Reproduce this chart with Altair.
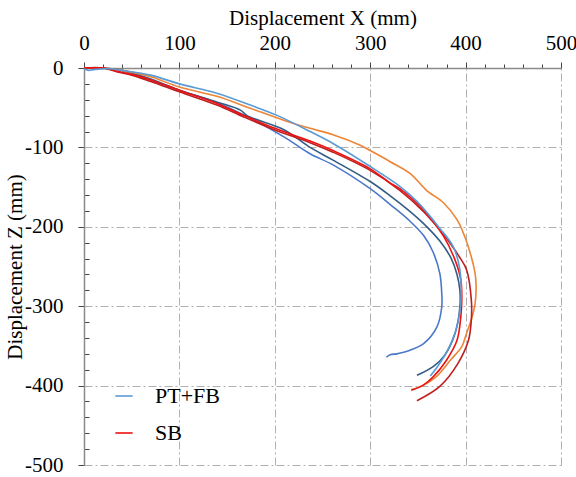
import altair as alt
import pandas as pd

FONT = "Liberation Serif"

# ---- data ----
names = ["PT+FB-2", "PT+FB-3", "SB-3", "SB-2", "SB", "PT+FB"]
colors = ["#4A78C8", "#335C85", "#EE8435", "#BE1E1E", "#EE1111", "#5B9BD5"]
widths = [1.6, 1.6, 1.5, 1.6, 2.2, 1.5]

# medium blue
x_mb = [0, 20, 40, 70, 100, 140, 174, 210, 237, 261, 300, 321, 340, 356, 366, 373, 375, 375, 370, 356, 338, 335, 328, 321, 317]
z_mb = [0, 0, -3, -15, -28, -44, -63, -87, -108, -122, -152, -172, -191, -211, -232, -259, -284, -301, -326, -347, -357, -358, -360, -361, -364]
# dark slate blue
x_ds = [0, 20, 40, 70, 100, 140, 164, 171, 210, 237, 261, 300, 321, 340, 356, 373, 385, 391, 394, 394, 389, 378, 366, 349]
z_ds = [0, 0, -3, -14, -28, -43, -53, -60, -78, -100, -116, -143, -161, -179, -196, -218, -240, -260, -280, -301, -334, -362, -376, -387]
# orange
x_or = [0, 20, 40, 70, 100, 140, 175, 210, 237, 261, 289, 300, 321, 342, 359, 377, 391, 399, 406, 410, 411, 410, 406, 401, 396, 384, 369, 355, 343]
z_or = [0, 0, -3, -11, -24, -36, -51, -66, -76, -84, -97, -104, -118, -133, -154, -170, -191, -212, -238, -259, -275, -296, -317, -334, -351, -368, -389, -400, -405]
# dark red
x_dr = [0, 20, 35, 50, 70, 100, 140, 168, 200, 237, 261, 300, 331, 356, 377, 384, 393, 401, 406, 406, 403, 392, 373, 349]
z_dr = [0, 0, -5, -9, -17, -30, -47, -62, -78, -94, -106, -129, -154, -181, -210, -221, -237, -254, -292, -317, -343, -372, -401, -419]
# red (SB)
x_rd = [0, 20, 35, 50, 70, 100, 140, 168, 200, 237, 261, 300, 321, 331, 356, 377, 389, 395, 396, 395, 391, 380, 366, 356, 343]
z_rd = [0, 0, -4, -8, -15, -28, -45, -60, -76, -92, -104, -127, -145, -152, -179, -212, -242, -267, -292, -313, -343, -368, -389, -399, -406]
# light blue (PT+FB)
x_lb = [0, 5, 10, 25, 40, 70, 100, 140, 175, 203, 237, 261, 300, 331, 349, 373, 387, 394, 395, 392, 386, 374, 363]
z_lb = [-1, -3, -2, -1, -3, -9, -20, -32, -47, -60, -80, -95, -124, -149, -168, -202, -225, -254, -296, -320, -343, -370, -388]

series_x = [x_mb, x_ds, x_or, x_dr, x_rd, x_lb]
series_z = [z_mb, z_ds, z_or, z_dr, z_rd, z_lb]

legend_values = ["PT+FB", "SB"]
x_ticks = list(range(0, 501, 20))
z_ticks = list(range(-500, 1, 20))

rows = []
for name, xs, zs in zip(names, series_x, series_z):
    for i, (xv, zv) in enumerate(zip(xs, zs)):
        rows.append({"series": name, "x": xv, "z": zv, "i": i})
df = pd.DataFrame(rows)

major = "datum.value % 100 === 0"

x_axis = alt.Axis(
    orient="top", values=x_ticks, title="Displacement X (mm)",
    labelExpr=f"{major} ? '' + datum.value : ''", labelOverlap=False, labelFlush=False,
    labelFont=FONT, labelFontSize=21, labelColor="black", labelPadding=9,
    titleFont=FONT, titleFontSize=21, titleFontWeight="normal", titleColor="black", titlePadding=4,
    domainColor="#8a8a8a", domainWidth=1.5,
    tickColor="#444444", tickWidth=1,
    tickSize={"condition": {"test": major, "value": 6}, "value": 4},
    grid=True, gridColor="#b0b0b0", gridWidth=1, gridDash=[8, 3, 2, 3],
    gridOpacity={"condition": {"test": major, "value": 1}, "value": 0},
)
y_axis = alt.Axis(
    orient="left", values=z_ticks, title="Displacement Z (mm)",
    labelExpr=f"{major} ? '' + datum.value : ''", labelOverlap=False, labelFlush=False,
    labelFont=FONT, labelFontSize=21, labelColor="black", labelPadding=15,
    titleFont=FONT, titleFontSize=21, titleFontWeight="normal", titleColor="black", titlePadding=-1,
    domainColor="#8a8a8a", domainWidth=1.5,
    tickColor="#444444", tickWidth=1,
    tickSize={"condition": {"test": major, "value": 6}, "value": -5},
    grid=True, gridColor="#b0b0b0", gridWidth=1, gridDash=[8, 3, 2, 3],
    gridOpacity={"condition": {"test": major, "value": 1}, "value": 0},
)

xscale = alt.Scale(domain=[0, 500], nice=False, zero=False)
yscale = alt.Scale(domain=[-500, 0], nice=False, zero=False)
cscale = alt.Scale(domain=names, range=colors)
wscale = alt.Scale(domain=names, range=widths)

legend = alt.Legend(
    values=legend_values, title=None, orient="none", legendX=29, legendY=317,
    symbolType="stroke", symbolStrokeWidth=2, symbolSize=300,
    labelFont=FONT, labelFontSize=22, labelColor="black", labelOffset=20,
    rowPadding=15, padding=0,
)

layers = []
for k, name in enumerate(names):
    layers.append(
        alt.Chart(df).transform_filter(alt.datum.series == name)
        .mark_line(interpolate="catmull-rom")
        .encode(
            x=alt.X("x:Q", scale=xscale, axis=x_axis),
            y=alt.Y("z:Q", scale=yscale, axis=y_axis),
            color=alt.Color("series:N", scale=cscale, legend=legend),
            strokeWidth=alt.StrokeWidth("series:N", scale=wscale, legend=None),
            order=alt.Order("i:Q"),
        )
    )

chart = alt.layer(*layers).properties(
    width=477, height=397,
    autosize=alt.AutoSizeParams(type="none"),
    padding={"left": 84, "top": 68, "right": 15, "bottom": 12},
    background="white",
).configure_view(stroke=None)

chart.save("out.html", embed_options={"renderer": "svg", "actions": False})
